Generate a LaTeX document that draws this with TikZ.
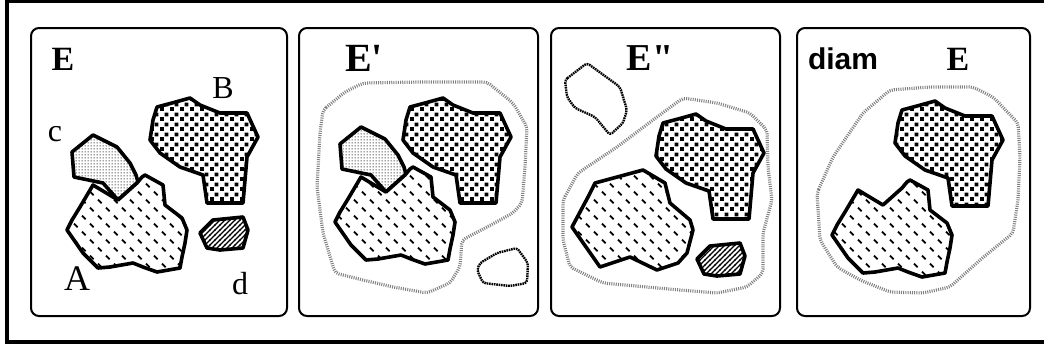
\documentclass[tikz,border=0pt]{standalone}
\usepackage{fontspec}
\setmainfont{Liberation Serif}
\newfontfamily\rawserif[Ligatures=TeXOff]{Liberation Serif}
\newfontfamily\diamfont{Liberation Sans}
\usetikzlibrary{patterns}
\pgfdeclarepatternformonly{adash}{\pgfpoint{-1pt}{-1pt}}{\pgfpoint{9pt}{9pt}}{\pgfpoint{8pt}{8pt}}{%
  \pgfsetlinewidth{0.9pt}%
  \pgfpathmoveto{\pgfpoint{1pt}{3.2pt}}\pgfpathlineto{\pgfpoint{2.8pt}{1.4pt}}%
  \pgfpathmoveto{\pgfpoint{5pt}{7.2pt}}\pgfpathlineto{\pgfpoint{6.8pt}{5.4pt}}%
  \pgfusepath{stroke}}
\pgfdeclarepatternformonly{bsq}{\pgfpointorigin}{\pgfpoint{5pt}{5pt}}{\pgfpoint{5pt}{5pt}}{%
  \pgfpathrectangle{\pgfpointorigin}{\pgfpoint{2.1pt}{2.1pt}}%
  \pgfpathrectangle{\pgfpoint{2.5pt}{2.5pt}}{\pgfpoint{2.1pt}{2.1pt}}%
  \pgfusepath{fill}}
\pgfdeclarepatternformonly{cdots}{\pgfpointorigin}{\pgfpoint{1.5pt}{1.5pt}}{\pgfpoint{1.5pt}{1.5pt}}{%
  \pgfpathcircle{\pgfpoint{0.75pt}{0.75pt}}{0.4pt}\pgfusepath{fill}}
\pgfdeclarepatternformonly{dhatch}{\pgfpoint{-0.5pt}{-0.5pt}}{\pgfpoint{3pt}{3pt}}{\pgfpoint{2.5pt}{2.5pt}}{%
  \pgfsetlinewidth{0.6pt}%
  \pgfpathmoveto{\pgfpoint{-0.2pt}{-0.2pt}}\pgfpathlineto{\pgfpoint{2.7pt}{2.7pt}}\pgfusepath{stroke}}

\newcommand\shpA{(93,185) -- (118,200) -- (137,183) -- (142,177) -- (145,175) -- (163,185) -- (165,205) -- (182,218) -- (187,230) -- (185,243) -- (182,257) -- (180,268) -- (157,272) -- (143,267) -- (133,263) -- (110,267) -- (98,268) -- (83,253) -- (67,230) -- (72,220) -- (80,207) -- cycle}
\newcommand\shpAfull{(90,186) -- (138,173) -- (160,186) -- (165,206) -- (185,223) -- (188,233) -- (182,256) -- (173,266) -- (152,273) -- (125,260) -- (95,270) -- (67,230) -- (83,200) -- cycle}
\newcommand\shpB{(157,107) -- (172,103) -- (190,98) -- (200,105) -- (220,113) -- (247,113) -- (258,137) -- (247,157) -- (245,180) -- (243,203) -- (207,203) -- (203,175) -- (180,167) -- (160,153) -- (150,140) -- (153,120) -- cycle}
\newcommand\shpC{(72,152) -- (93,135) -- (117,147) -- (130,163) -- (136,175) -- (138,182) -- (118,200) -- (103,183) -- (74,177) -- cycle}
\newcommand\shpD{(200,233) -- (213,220) -- (243,217) -- (248,230) -- (243,248) -- (220,250) -- (207,248) -- cycle}

\begin{document}
\begin{tikzpicture}[x=0.5pt,y=-0.5pt,
  panelbox/.style={draw, line width=1pt, rounded corners=4pt},
  blob/.style={draw, line width=1.8pt, line join=round, preaction={fill=white}},
  Ablob/.style={blob, pattern=adash},
  Bblob/.style={blob, pattern=bsq},
  Cblob/.style={blob, pattern=cdots},
  Dblob/.style={blob, pattern=dhatch},
  envelope/.style={draw=black!50, line width=1.6pt, dash pattern=on 0.5pt off 0.6pt, rounded corners=2pt},
  ghost/.style={draw=black, line width=1.2pt, dash pattern=on 0.8pt off 0.4pt, rounded corners=1.5pt},
  bigE/.style={inner sep=0pt, font=\rawserif\fontsize{17}{17}\selectfont\bfseries},
  lab/.style={inner sep=0pt, font=\fontsize{16}{16}\selectfont}]
\useasboundingbox (0,0) rectangle (1044,350);
% outer frame
\draw[line width=1.6pt] (1044,1.5) -- (7,1.5) -- (7,342) -- (1044,342);
% panels
\draw[panelbox] (31,28) rectangle (287,316);
\draw[panelbox] (299,28) rectangle (538,316);
\draw[panelbox] (551,28) rectangle (780,316);
\draw[panelbox] (797,28) rectangle (1030,316);

% ---- panel 1 ----
\draw[Bblob] \shpB;
\draw[Cblob] \shpC;
\draw[Ablob] \shpA;
\draw[Dblob] \shpD;
\node[bigE] (e1) at (63,59) {E};
\node[lab] (lb) at (223,88) {B};
\node[lab] (lc) at (55,134) {c};
\node[lab, font=\fontsize{18}{18}\selectfont] (la) at (77,279) {A};
\node[lab] (ld) at (240,284) {d};

% ---- panel 2 ----
\draw[envelope] (323,110) -- (345,92) -- (363,83) -- (420,82) -- (487,82) -- (513,103) -- (527,127) -- (525,167) -- (522,203) -- (513,213) -- (487,227) -- (462,240) -- (460,267) -- (450,283) -- (427,293) -- (393,287) -- (363,280) -- (335,273) -- (323,233) -- (317,187) -- (320,133) -- cycle;
\draw[ghost] (480,263) -- (497,253) -- (517,248) -- (528,263) -- (527,283) -- (510,286) -- (483,283) -- (477,270) -- cycle;
\begin{scope}[shift={(253,0)}]
  \draw[Bblob] \shpB;
\end{scope}
\begin{scope}[shift={(268,-8)}]
  \draw[Cblob] \shpC;
  \draw[Ablob] \shpA;
\end{scope}
\node[bigE, font=\rawserif\fontsize{20}{20}\selectfont\bfseries] (e2) at (364,58) {E'};

% ---- panel 3 ----
\draw[envelope] (563,200) -- (578,173) -- (617,147) -- (657,117) -- (683,98) -- (717,103) -- (750,113) -- (767,130) -- (768,167) -- (772,200) -- (763,233) -- (763,273) -- (747,287) -- (717,293) -- (680,290) -- (647,287) -- (603,283) -- (570,267) -- (563,240) -- cycle;
\draw[ghost] (565,80) -- (587,63) -- (620,87) -- (627,110) -- (623,123) -- (610,135) -- (595,117) -- (575,108) -- (567,97) -- cycle;
\begin{scope}[shift={(506,16)}]
  \draw[Bblob] \shpB;
\end{scope}
\begin{scope}[shift={(505,-3)}]
  \draw[Ablob] \shpAfull;
\end{scope}
\begin{scope}[shift={(497,26)}]
  \draw[Dblob] \shpD;
\end{scope}
\node[bigE, font=\rawserif\fontsize{19}{19}\selectfont\bfseries] (e3) at (650,58) {E"};

% ---- panel 4 ----
\draw[envelope] (817,193) -- (833,157) -- (863,113) -- (890,90) -- (930,87) -- (973,87) -- (993,97) -- (1018,123) -- (1020,157) -- (1018,200) -- (1013,233) -- (980,260) -- (950,287) -- (923,293) -- (890,292) -- (860,280) -- (837,267) -- (820,240) -- cycle;
\begin{scope}[shift={(745,3)}]
  \draw[Bblob] \shpB;
\end{scope}
\begin{scope}[shift={(765,5)}]
  \draw[Ablob] \shpA;
\end{scope}
\node[inner sep=0pt, font=\diamfont\fontsize{15}{15}\selectfont\bfseries] (dm) at (843,59) {diam};
\node[bigE] (e4) at (958,59) {E};
\end{tikzpicture}
\end{document}
